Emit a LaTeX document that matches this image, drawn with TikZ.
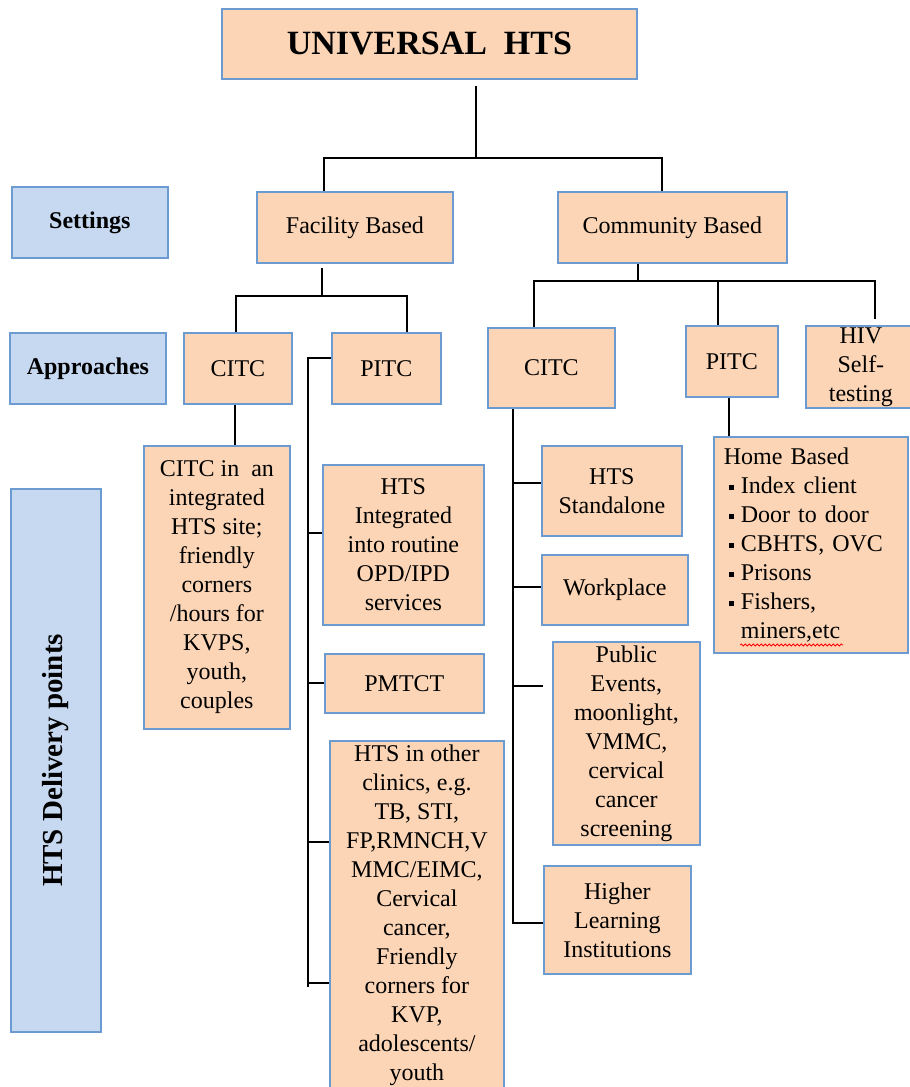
\documentclass[tikz,border=0pt]{standalone}
\usepackage{fontspec}
\setmainfont{Liberation Serif}
\usetikzlibrary{decorations.pathmorphing}
\definecolor{peach}{HTML}{FBD5B5}
\definecolor{lblue}{HTML}{C6D9F1}
\definecolor{bord}{HTML}{6C9BD2}
\newcommand\sqbul{\makebox[17pt][l]{\hspace{5pt}\rule[3pt]{5pt}{5pt}}}
\begin{document}
\begin{tikzpicture}[x=1pt,y=-1pt,
  box/.style={draw=bord, line width=1.8pt, fill=peach, inner sep=0pt, anchor=north west,
              align=center, font=\fontsize{24}{29}\selectfont},
  bbox/.style={box, fill=lblue, font=\fontsize{24}{29}\selectfont\bfseries},
  conn/.style={line width=1.8pt, black},
  wavy/.style={red, line width=0.8pt, decorate, decoration={snake, amplitude=1pt, segment length=4pt}}
]
\clip (0,0) rectangle (910,1087);
\fill[white] (0,0) rectangle (910,1087);

% level 0
\node[box, minimum width=415pt, minimum height=70pt, font=\fontsize{34}{40}\selectfont\bfseries] (title) at (221,8) {UNIVERSAL\ \ HTS};

% labels (blue)
\node[bbox, minimum width=156pt, minimum height=71pt] (settings) at (11,186) {Settings};
\node[bbox, minimum width=156pt, minimum height=71pt] (approaches) at (9,332) {Approaches};
\node[bbox, rotate=90, anchor=center, minimum width=543pt, minimum height=90pt,
      font=\fontsize{29}{34}\selectfont\bfseries] (dp) at (56,760.5) {HTS Delivery points};

% settings
\node[box, minimum width=196pt, minimum height=71pt] (fac) at (256,191) {Facility Based};
\node[box, minimum width=229pt, minimum height=71pt] (com) at (557,191) {Community Based};

% approaches
\node[box, minimum width=108pt, minimum height=71pt] (citcF) at (183,332) {CITC};
\node[box, minimum width=109pt, minimum height=71pt] (pitcF) at (331,332) {PITC};
\node[box, minimum width=127pt, minimum height=80pt] (citcC) at (487,327) {CITC};
\node[box, minimum width=92pt, minimum height=71pt] (pitcC) at (685,325) {PITC};
\node[box, minimum width=110pt, minimum height=82pt] (hiv) at (805,325) {HIV\\Self-\\testing};

% delivery points - facility
\node[box, minimum width=146pt, minimum height=283pt] (citcInt) at (143,445)
  {CITC in\ \ an\\integrated\\HTS site;\\friendly\\corners\\/hours for\\KVPS,\\youth,\\couples};
\node[box, minimum width=161pt, minimum height=160pt] (htsInt) at (322,464)
  {HTS\\Integrated\\into routine\\OPD/IPD\\services};
\node[box, minimum width=159pt, minimum height=59pt] (pmtct) at (324,653) {PMTCT};
\node[box, minimum width=174pt, minimum height=349pt] (htsOther) at (329,740)
  {HTS in other\\clinics, e.g.\\TB, STI,\\FP,RMNCH,V\\MMC/EIMC,\\Cervical\\cancer,\\Friendly\\corners for\\KVP,\\adolescents/\\youth};

% delivery points - community
\node[box, minimum width=140pt, minimum height=90pt] (standalone) at (541,445) {HTS\\Standalone};
\node[box, minimum width=146pt, minimum height=70pt] (workplace) at (541,554) {Workplace};
\node[box, minimum width=147pt, minimum height=203pt] (public) at (552,641)
  {Public\\Events,\\moonlight,\\VMMC,\\cervical\\cancer\\screening};
\node[box, minimum width=147pt, minimum height=108pt] (higher) at (543,865)
  {Higher\\Learning\\Institutions};
\node[box, align=left, inner xsep=10pt, text width=174pt, minimum height=216pt] (home) at (713,436)
  {Home Based\\\sqbul Index client\\\sqbul Door to door\\\sqbul CBHTS, OVC\\\sqbul Prisons\\\sqbul Fishers,\\\hspace*{17pt}miners,etc};
\draw[wavy] (740,645) -- (843,645);

% connectors
\coordinate (j1) at (476,158);
\draw[conn] ([yshift=-6pt]title.south -| j1) -- (j1);
\draw[conn] (fac.north -| 324,0) |- (j1);
\draw[conn] (com.north -| 662,0) |- (j1);

\coordinate (j2) at (322,296);
\draw[conn] ([yshift=-4pt]fac.south -| j2) -- (j2);
\draw[conn] (citcF.north -| 236,0) |- (j2);
\draw[conn] (pitcF.north -| 407,0) |- (j2);

\coordinate (j3) at (638,281);
\draw[conn] (com.south -| j3) -- (j3);
\draw[conn] (citcC.north -| 534,0) |- (j3);
\draw[conn] (pitcC.north -| 718,0) |- (j3);
\draw[conn] ([yshift=6pt]hiv.north -| 875,0) |- (j3);

\draw[conn] (citcF.south -| 235,0) -- (citcInt.north -| 235,0);

\coordinate (s1top) at (308,358);
\coordinate (s1bot) at (308,987);
\draw[conn] (pitcF.west |- s1top) -- (s1top) -- (s1bot);
\draw[conn] (s1top |- 0,533) -- (htsInt.west |- 0,533);
\draw[conn] (s1top |- 0,683) -- (pmtct.west |- 0,683);
\draw[conn] (s1top |- 0,842) -- (htsOther.west |- 0,842);
\draw[conn] (s1top |- 0,983) -- (htsOther.west |- 0,983);

\coordinate (s2bot) at (513,923);
\draw[conn] (citcC.south -| s2bot) -- (s2bot) -- (higher.west |- s2bot);
\draw[conn] (s2bot |- 0,483) -- (standalone.west |- 0,483);
\draw[conn] (s2bot |- 0,587) -- (workplace.west |- 0,587);
\coordinate (pubtick) at (543,686);
\draw[conn] (s2bot |- pubtick) -- (pubtick);

\draw[conn] (pitcC.south -| 729,0) -- (home.north -| 729,0);
\end{tikzpicture}
\end{document}
